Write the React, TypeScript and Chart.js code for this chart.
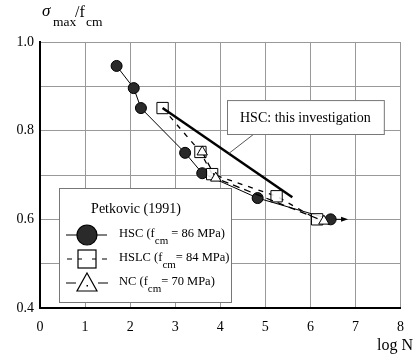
import React, { useEffect, useRef } from "react";
import { Chart, registerables } from "chart.js";

Chart.register(...registerables);

// Data
const hscX = [1.7, 2.08, 2.24, 3.22, 3.6, 4.83, 6.45, 6.77];
const hscY = [0.946, 0.896, 0.851, 0.75, 0.704, 0.648, 0.6, 0.6];
const hslcX = [2.72, 3.56, 3.82, 5.25, 6.15];
const hslcY = [0.851, 0.752, 0.702, 0.652, 0.6];
const ncX = [3.6, 3.9, 6.3];
const ncY = [0.752, 0.693, 0.596];
const thisX = [2.72, 5.6];
const thisY = [0.851, 0.65];

const xTicks = [0, 1, 2, 3, 4, 5, 6, 7, 8];
const yTickLabels = ["0.4", "0.6", "0.8", "1.0"];

const legendTitle = "Petkovic (1991)";
const legendRows = [
  { pre: "HSC (f", sub: "cm", post: " = 86 MPa)" },
  { pre: "HSLC (f", sub: "cm", post: "= 84 MPa)" },
  { pre: "NC (f", sub: "cm", post: "= 70 MPa)" },
];
const annotationText = "HSC: this investigation";

const SERIF = "'Liberation Serif', 'DejaVu Serif', serif";

function toPts(xs: number[], ys: number[]) {
  return xs.map((x, i) => ({ x, y: ys[i] }));
}

const overlayPlugin = {
  id: "overlay",
  afterDraw(chart: any) {
    const ctx = chart.ctx as CanvasRenderingContext2D;
    const xs = chart.scales.x;
    const ys = chart.scales.y;
    ctx.save();

    // arrowhead at end of HSC line
    const ax = xs.getPixelForValue(hscX[hscX.length - 1]);
    const ay = ys.getPixelForValue(hscY[hscY.length - 1]);
    ctx.fillStyle = "#000";
    ctx.beginPath();
    ctx.moveTo(ax + 3, ay);
    ctx.lineTo(ax - 4, ay - 2.5);
    ctx.lineTo(ax - 4, ay + 2.5);
    ctx.closePath();
    ctx.fill();

    // annotation box
    const bx1 = xs.getPixelForValue(4.15);
    const bx2 = xs.getPixelForValue(7.63);
    const by1 = ys.getPixelForValue(0.869);
    const by2 = ys.getPixelForValue(0.7925);
    // leader line
    const t = 0.51;
    const lx = xs.getPixelForValue(thisX[0] + (thisX[1] - thisX[0]) * t);
    const ly = ys.getPixelForValue(thisY[0] + (thisY[1] - thisY[0]) * t);
    ctx.strokeStyle = "#555";
    ctx.lineWidth = 1;
    ctx.beginPath();
    ctx.moveTo(bx1 + 27, by2);
    ctx.lineTo(lx, ly);
    ctx.stroke();
    ctx.fillStyle = "#fff";
    ctx.fillRect(bx1, by1, bx2 - bx1, by2 - by1);
    ctx.strokeStyle = "#777";
    ctx.strokeRect(bx1 + 0.5, by1 + 0.5, bx2 - bx1, by2 - by1);
    ctx.fillStyle = "#000";
    ctx.font = `14px ${SERIF}`;
    ctx.textBaseline = "middle";
    ctx.textAlign = "left";
    ctx.fillText(annotationText, bx1 + 13, (by1 + by2) / 2 + 1);

    // legend box
    const gx1 = Math.round(xs.getPixelForValue(0.43));
    const gx2 = Math.round(xs.getPixelForValue(4.24));
    const gy1 = Math.round(ys.getPixelForValue(0.671));
    const gy2 = Math.round(ys.getPixelForValue(0.4135));
    ctx.fillStyle = "#fff";
    ctx.fillRect(gx1, gy1, gx2 - gx1, gy2 - gy1);
    ctx.strokeStyle = "#777";
    ctx.strokeRect(gx1 + 0.5, gy1 + 0.5, gx2 - gx1, gy2 - gy1);
    ctx.fillStyle = "#000";
    ctx.font = `14px ${SERIF}`;
    ctx.textAlign = "center";
    ctx.fillText(legendTitle, gx1 + 77, gy1 + 21);

    const mx = gx1 + 28;
    const rowsY = [gy1 + 47, gy1 + 71, gy1 + 95];
    // row 1: solid line + filled circle
    ctx.strokeStyle = "#000";
    ctx.lineWidth = 1.2;
    ctx.beginPath();
    ctx.moveTo(gx1 + 7, rowsY[0]);
    ctx.lineTo(gx1 + 48, rowsY[0]);
    ctx.stroke();
    ctx.fillStyle = "#2a2a2a";
    ctx.beginPath();
    ctx.arc(mx, rowsY[0], 10, 0, Math.PI * 2);
    ctx.fill();
    ctx.stroke();
    // row 2: dashes + square
    ctx.beginPath();
    ctx.moveTo(gx1 + 8, rowsY[1]);
    ctx.lineTo(gx1 + 13, rowsY[1]);
    ctx.moveTo(gx1 + 43, rowsY[1]);
    ctx.lineTo(gx1 + 48, rowsY[1]);
    ctx.stroke();
    ctx.fillStyle = "#fff";
    ctx.fillRect(mx - 9, rowsY[1] - 9, 18, 18);
    ctx.strokeRect(mx - 9, rowsY[1] - 9, 18, 18);
    ctx.beginPath();
    ctx.moveTo(mx - 9, rowsY[1]);
    ctx.lineTo(mx - 5, rowsY[1]);
    ctx.moveTo(mx + 5, rowsY[1]);
    ctx.lineTo(mx + 9, rowsY[1]);
    ctx.stroke();
    // row 3: longer dashes + triangle
    ctx.beginPath();
    ctx.moveTo(gx1 + 7, rowsY[2]);
    ctx.lineTo(gx1 + 17, rowsY[2]);
    ctx.moveTo(gx1 + 39, rowsY[2]);
    ctx.lineTo(gx1 + 49, rowsY[2]);
    ctx.stroke();
    ctx.fillStyle = "#fff";
    ctx.beginPath();
    ctx.moveTo(mx, rowsY[2] - 10);
    ctx.lineTo(mx + 10, rowsY[2] + 8);
    ctx.lineTo(mx - 10, rowsY[2] + 8);
    ctx.closePath();
    ctx.fill();
    ctx.stroke();
    ctx.fillStyle = "#000";
    ctx.fillRect(mx - 0.5, rowsY[2] + 2, 1.5, 1.5);

    // row texts
    ctx.textAlign = "left";
    legendRows.forEach((r, i) => {
      let x = gx1 + 60;
      const y = rowsY[i] - 1;
      ctx.font = `12.5px ${SERIF}`;
      ctx.fillText(r.pre, x, y);
      x += ctx.measureText(r.pre).width;
      ctx.font = `11px ${SERIF}`;
      ctx.fillText(r.sub, x, y + 7);
      x += ctx.measureText(r.sub).width;
      ctx.font = `12.5px ${SERIF}`;
      ctx.fillText(r.post, x, y);
    });

    // y-axis title
    ctx.textBaseline = "alphabetic";
    ctx.font = `italic 17px ${SERIF}`;
    ctx.fillText("σ", 42, 16);
    ctx.font = `13.5px ${SERIF}`;
    ctx.fillText("max", 53, 26);
    ctx.font = `16px ${SERIF}`;
    ctx.fillText("/f", 75, 17);
    ctx.font = `13.5px ${SERIF}`;
    ctx.fillText("cm", 86, 26);

    // x-axis title
    ctx.font = `16px ${SERIF}`;
    ctx.textAlign = "right";
    ctx.fillText("log N", 413, 350);

    ctx.restore();
  },
};

export default function App() {
  const ref = useRef<HTMLCanvasElement | null>(null);
  useEffect(() => {
    if (!ref.current) return;
    const hscRadius = hscX.map((_, i) => (i === hscX.length - 1 ? 0 : 5.5));
    const chart = new Chart(ref.current, {
      type: "scatter",
      data: {
        datasets: [
          {
            label: "HSC: this investigation",
            data: toPts(thisX, thisY),
            showLine: true,
            borderColor: "#000",
            borderWidth: 2.5,
            pointRadius: 0,
          },
          {
            label: "NC",
            data: toPts(ncX, ncY),
            showLine: true,
            borderColor: "#000",
            borderWidth: 1.3,
            borderDash: [7, 5],
            pointStyle: "triangle",
            pointRadius: 6,
            pointBackgroundColor: "#fff",
            pointBorderColor: "#000",
            pointBorderWidth: 1,
          },
          {
            label: "HSLC",
            data: toPts(hslcX, hslcY),
            showLine: true,
            borderColor: "#000",
            borderWidth: 1.3,
            borderDash: [5, 6],
            pointStyle: "rect",
            pointRadius: 8,
            pointBackgroundColor: "rgba(255,255,255,0.85)",
            pointBorderColor: "#000",
            pointBorderWidth: 1,
          },
          {
            label: "HSC",
            data: toPts(hscX, hscY),
            showLine: true,
            borderColor: "#000",
            borderWidth: 1,
            pointStyle: "circle",
            pointRadius: hscRadius,
            pointBackgroundColor: "#2a2a2a",
            pointBorderColor: "#000",
            pointBorderWidth: 1,
          },
        ],
      },
      options: {
        responsive: false,
        animation: false,
        devicePixelRatio: 1,
        layout: { padding: { top: 42, right: 3, left: 0, bottom: 0 } },
        plugins: { legend: { display: false }, tooltip: { enabled: false } },
        scales: {
          x: {
            type: "linear",
            min: 0,
            max: 8,
            afterFit: (s: any) => {
              s.height = 56;
            },
            afterBuildTicks: (s: any) => {
              s.ticks = xTicks.map((v) => ({ value: v }));
            },
            ticks: {
              color: "#000",
              font: { family: SERIF, size: 14 },
              padding: 11,
              maxRotation: 0,
              callback: (v: any) => String(v),
            },
            grid: { color: "#999", lineWidth: 1, drawTicks: false },
            border: { display: true, color: "#000", width: 2 },
          },
          y: {
            type: "linear",
            min: 0.4,
            max: 1.0,
            afterFit: (s: any) => {
              s.width = 40;
            },
            ticks: {
              stepSize: 0.1,
              color: "#000",
              font: { family: SERIF, size: 14 },
              padding: 6,
              callback: (v: any) => {
                const k = Math.round(Number(v) * 10);
                const lbl = (k / 10).toFixed(1);
                return yTickLabels.includes(lbl) ? lbl : "";
              },
            },
            grid: { color: "#999", lineWidth: 1, drawTicks: false },
            border: { display: true, color: "#000", width: 2 },
          },
        },
      },
      plugins: [overlayPlugin],
    } as any);
    return () => chart.destroy();
  }, []);
  return (
    <div style={{ position: "fixed", left: 0, top: 0, width: 415, height: 364, background: "#fff" }}>
      <canvas ref={ref} width={415} height={364} />
    </div>
  );
}
